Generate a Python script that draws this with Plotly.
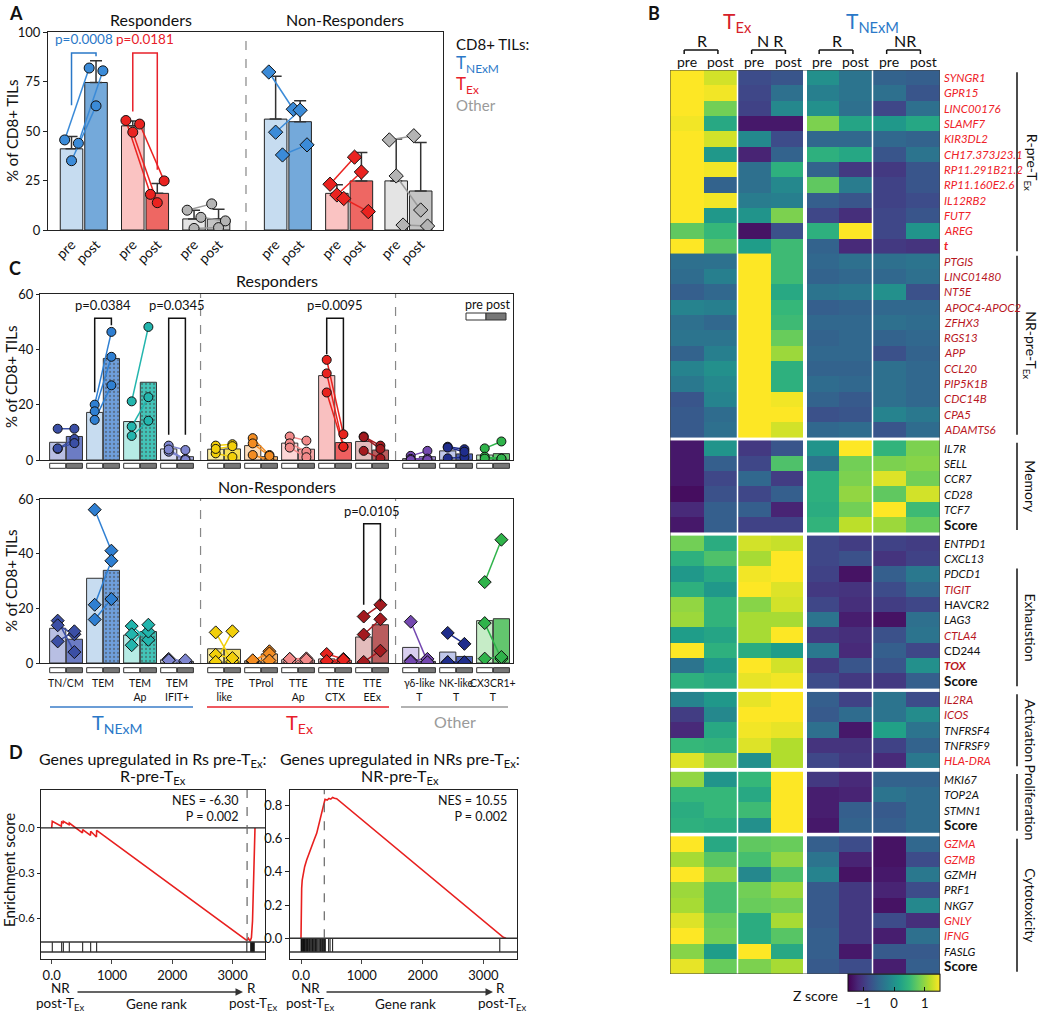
import plotly.graph_objects as go

W, H = 1043, 1023
FONT = "Lato, 'Open Sans', sans-serif"
BLUE = "#2a78c8"
RED = "#e8202a"
GRAY = "#9a9a9a"


def fx(px):
    return px / W


def fy(py):
    return 1 - py / H


# ======================= DATA =======================
# ---- Panel A ----
A_tick_labels = ["pre", "post"]
A_group_type = ["TNExM", "TEx", "Other", "TNExM", "TEx", "Other"]
A_bar_pre = [41.0, 52.6, 5.6, 56.0, 18.5, 24.8]
A_bar_post = [74.5, 18.5, 5.5, 54.7, 24.8, 19.7]
A_err_pre = [47.2, 55.1, 10.0, 77.6, 22.8, 45.9]
A_err_post = [85.5, 23.5, 10.5, 65.3, 39.1, 44.2]
A_pts_pre = [[45.5, 35.0, 43.8], [55.3, 49.4, 53.5], [10.0, 0.8, 6.4],
             [79.8, 49.4, 37.9], [23.1, 17.7, 15.9], [45.5, 27.3, 2.5]]
A_pts_post = [[81.8, 62.7, 80.4], [18.0, 13.8, 24.8], [13.2, 1.2, 4.6],
              [61.0, 60.5, 43.0], [36.8, 29.3, 9.3], [47.6, 10.1, 2.0]]
# (group, y at pre side, y at post side, bracket top, label)
A_brackets = [(0, 63.0, 87.7, 89.4, "p=0.0008"), (1, 59.9, 30.4, 89.4, "p=0.0181")]

# ---- Panel C ----
C_cats = ["TN/CM", "TEM", "TEM<br>Ap", "TEM<br>IFIT+", "TPE<br>like", "TProl",
          "TTE<br>Ap", "TTE<br>CTX", "TTE<br>EEx", "γδ-like<br>T", "NK-like<br>T", "CX3CR1+<br>T"]
C_R_bar_pre = [6.4, 17.2, 13.9, 4.0, 3.9, 5.2, 6.1, 30.5, 6.7, 0.5, 3.3, 1.8]
C_R_bar_post = [8.5, 36.7, 28.1, 1.2, 4.0, 1.2, 3.9, 6.3, 3.6, 1.2, 2.2, 2.3]
C_R_pts_pre = [[11.3, 4.0, 4.2], [20.0, 17.6, 14.5], [21.2, 12.1, 8.7], [5.2, 3.0, 3.8],
               [5.2, 2.4, 4.0], [7.9, 1.8, 6.0], [8.5, 6.0, 4.5], [36.2, 31.3, 24.4],
               [8.5, 8.3, 3.3], [1.5, 0.4, 0.0], [4.8, 0.6, 4.5], [4.2, 1.2, 0.5]]
C_R_pts_post = [[11.3, 7.6, 6.1], [46.3, 37.3, 27.0], [48.1, 22.7, 14.2], [3.6, 0.4, 0.0],
                [5.7, 1.1, 5.0], [1.8, 0.0, 1.5], [7.0, 3.0, 1.0], [9.3, 4.8, 4.8],
                [5.2, 4.0, 0.6], [3.3, 0.5, 0.0], [3.9, 1.0, 3.0], [6.7, 0.5, 0.5]]
C_NR_bar_pre = [12.7, 31.0, 10.2, 1.2, 5.2, 0.8, 1.2, 1.5, 9.5, 5.7, 4.0, 15.5]
C_NR_bar_post = [8.7, 33.9, 11.5, 0.6, 5.0, 3.3, 1.1, 1.0, 14.0, 0.6, 2.4, 16.2]
C_NR_pts_pre = [[15.5, 13.8, 7.9], [56.1, 21.3, 15.9], [13.5, 10.5, 6.5], [1.5, 1.0, 1.0],
                [11.2, 3.0, 0.4], [0.5, 0.8, 1.0], [1.5, 0.5, 1.5], [3.3, 0.5, 0.7],
                [17.0, 10.4, 0.4], [15.1, 0.9, 0.5], [11.0, 0.3, 0.3], [29.6, 14.6, 1.6]]
C_NR_pts_post = [[4.0, 10.5, 11.6], [41.1, 37.4, 23.4], [8.5, 11.5, 14.0], [0.5, 0.0, 1.0],
                 [0.5, 1.8, 11.6], [4.3, 3.5, 0.9], [1.7, 0.5, 1.2], [1.5, 0.2, 1.2],
                 [21.3, 16.0, 4.5], [0.5, 1.5, 0.3], [7.0, 0.2, 0.3], [45.1, 1.5, 2.2]]
C_R_brackets = [(1, 24.5, 48.7, 51.2, "p=0.0384"), (3, 9.1, 9.1, 51.2, "p=0.0345"),
                (7, 38.2, 10.9, 51.2, "p=0.0095")]
C_NR_brackets = [(8, 21.3, 22.5, 50.9, "p=0.0105")]

# ---- Panel D ----
D_left_rank = [0, 10, 160, 166, 190, 193, 288, 292, 510, 514, 643, 647, 742, 746,
               3234, 3262, 3290, 3312, 3330, 3350, 3371]
D_left_es = [0.0, 0.044, 0.011, 0.04, 0.035, 0.045, 0.022, 0.033, -0.033, -0.011,
             -0.049, -0.022, -0.06, -0.016, -0.749, -0.735, -0.755, -0.73, -0.62, -0.35, 0.0]
D_left_hits = [10, 166, 193, 292, 514, 647, 746, 3236, 3300, 3310, 3318, 3326, 3334,
               3342, 3350, 3358]
D_right_rank = [0, 3, 11, 20, 38, 60, 93, 130, 175, 215, 258, 312, 367, 395, 430, 460,
                490, 520, 550, 587, 3328, 3372]
D_right_es = [0.0, 0.15, 0.30, 0.35, 0.39, 0.43, 0.47, 0.51, 0.55, 0.59, 0.63, 0.71,
              0.79, 0.834, 0.83, 0.84, 0.835, 0.845, 0.84, 0.838, 0.006, 0.0]
D_right_hits = [2, 8, 15, 22, 30, 41, 50, 57, 66, 78, 88, 97, 108, 118, 130, 142, 151,
                165, 178, 190, 202, 215, 228, 240, 252, 265, 280, 296, 310, 322, 340,
                355, 372, 388, 400, 455, 478, 520, 3270]
D_left_stats = "NES = -6.30<br>P = 0.002"
D_right_stats = "NES = 10.55<br>P = 0.002"

# ---- Panel B (heatmap, Z scores) ----
HM_col_groups = ["T<sub>Ex</sub>", "T<sub>NExM</sub>"]
HM_resp = ["R", "N R", "R", "NR"]
HM_time = ["pre", "post", "pre", "post", "pre", "post", "pre", "post"]

Rpre_genes = ["SYNGR1", "GPR15", "LINC00176", "SLAMF7", "KIR3DL2", "CH17.373J23.1",
              "RP11.291B21.2", "RP11.160E2.6", "IL12RB2", "FUT7", "AREG", "t"]
Rpre_z = [
    [1.5, 1.3, -0.8, -0.7, 0.0, -0.35, -0.55, -0.6],
    [1.5, 1.45, -0.85, -0.4, -0.2, -0.35, -0.4, -0.7],
    [1.5, 0.85, -0.9, -0.1, 0.0, -0.4, -0.85, -0.4],
    [1.45, 0.3, -1.3, -1.3, 0.9, 0.25, 0.1, 0.28],
    [1.5, 1.3, -0.08, -0.8, -0.5, -0.5, -0.5, -0.55],
    [1.5, 0.1, -1.2, -0.55, 0.4, 0.28, -0.7, -0.35],
    [1.5, 1.45, -0.4, 0.4, -0.55, -1.0, -1.0, -0.7],
    [1.5, -0.55, -0.4, -0.1, 0.75, -0.25, -0.9, -0.7],
    [1.5, 1.45, -0.25, -0.2, -0.6, -0.7, -0.9, -0.8],
    [1.5, 0.1, 0.05, 0.9, -0.85, -1.1, -0.85, -0.7],
    [0.75, 0.5, -1.35, -0.75, 0.4, 1.5, -0.85, 0.05],
    [1.5, 0.7, 0.15, 0.55, -0.55, -1.15, -1.0, -1.05],
]
Rpre_sty = ["r"] * 11 + ["rB"]

NRpre_genes = ["PTGIS", "LINC01480", "NT5E", "APOC4-APOC2", "ZFHX3", "RGS13", "APP",
               "CCL20", "PIP5K1B", "CDC14B", "CPA5", "ADAMTS6"]
NRpre_z = [
    [-0.4, -0.38, 1.5, 0.55, -0.5, -0.4, -0.4, -0.35],
    [-0.45, -0.2, 1.5, 0.55, -0.55, -0.5, -0.5, -0.4],
    [-0.6, -0.5, 1.5, 0.3, -0.35, -0.3, 0.0, -0.75],
    [-0.15, -0.2, 1.5, 0.5, -0.6, -0.55, -0.5, -0.5],
    [-0.4, -0.5, 1.5, 0.55, -0.5, -0.5, -0.4, -0.45],
    [-0.35, -0.35, 1.5, 0.8, -0.55, -0.5, -0.55, -0.5],
    [-0.55, -0.2, 1.5, 1.05, -0.5, -0.5, -0.75, -0.55],
    [-0.15, 0.0, 1.5, 0.4, -0.55, -0.55, -0.4, -0.5],
    [-0.3, -0.1, 1.5, 0.4, -0.45, -0.5, -0.4, -0.5],
    [-0.7, -0.15, 1.5, 1.45, -0.55, -0.65, -0.4, -0.5],
    [-0.65, -0.45, 1.5, 1.5, -0.75, -0.7, -0.15, -0.3],
    [-0.65, -0.4, 1.5, 1.3, -0.5, -0.45, -0.7, -0.45],
]
NRpre_sty = ["d"] * 12

Mem_genes = ["IL7R", "SELL", "CCR7", "CD28", "TCF7", "Score"]
Mem_z = [
    [-1.3, 0.05, -1.0, -0.7, 0.05, 1.5, 0.45, 0.9],
    [-1.3, -0.6, -0.85, 0.65, -0.35, 0.85, 0.9, 0.95],
    [-1.3, -0.85, -0.5, -0.95, 0.4, 0.9, 1.35, 0.85],
    [-1.4, -0.75, -0.85, -0.6, 0.4, 1.0, 0.75, 1.3],
    [-1.15, -0.6, -0.6, -1.2, 0.35, 0.85, 1.5, 0.55],
    [-1.3, -0.6, -0.9, -0.9, 0.45, 1.2, 1.05, 0.8],
]
Mem_sty = ["k"] * 5 + ["S"]

Exh_genes = ["ENTPD1", "CXCL13", "PDCD1", "TIGIT", "HAVCR2", "LAG3", "CTLA4", "CD244",
             "TOX", "Score"]
Exh_z = [
    [0.85, 0.35, 1.3, 1.25, -0.85, -0.95, -0.9, -0.95],
    [0.4, 0.65, 1.1, 1.5, -0.85, -0.75, -1.05, -0.9],
    [0.1, 0.3, 1.45, 1.5, -0.9, -1.35, -0.6, -0.3],
    [0.4, 0.1, 1.5, 1.35, -1.0, -1.05, -0.8, -0.5],
    [1.0, 0.45, 0.95, 1.3, -0.85, -1.1, -0.95, -0.85],
    [1.05, 0.45, 1.1, 1.1, -0.35, -1.25, -1.35, -0.4],
    [0.15, 0.25, 1.1, 1.5, -1.0, -1.1, -0.75, -0.35],
    [1.5, 0.4, 0.35, 0.15, -0.3, -1.15, -0.6, -0.85],
    [-0.35, 0.1, 1.5, 1.3, -1.0, -0.7, -0.7, 0.0],
    [0.4, 0.3, 1.4, 1.45, -0.8, -1.0, -1.0, -0.6],
]
Exh_sty = ["k", "k", "k", "d", "K", "k", "d", "K", "dB", "S"]

Act_genes = ["IL2RA", "ICOS", "TNFRSF4", "TNFRSF9", "HLA-DRA"]
Act_z = [
    [-0.15, 0.1, 1.4, 1.5, -0.6, -0.9, -0.35, -0.8],
    [-0.95, -0.1, 1.5, 1.5, -0.65, -0.45, -0.35, -0.05],
    [-1.15, 0.3, 1.45, 1.4, -0.4, -1.3, 0.2, -0.35],
    [0.5, 0.45, 1.35, 1.15, -1.05, -1.05, -0.9, -0.55],
    [1.35, 1.0, 0.0, 1.15, -0.85, -1.0, -1.15, -0.3],
]
Act_sty = ["d", "d", "k", "k", "r"]

Pro_genes = ["MKI67", "TOP2A", "STMN1", "Score"]
Pro_z = [
    [1.0, 0.05, 0.5, 1.5, -1.0, -1.15, -0.55, -0.55],
    [0.5, 0.5, 0.3, 1.5, -1.25, -1.2, -0.35, -0.45],
    [0.35, 0.5, 0.55, 1.5, -1.25, -0.6, -0.65, -0.45],
    [0.4, 0.35, 0.0, 1.5, -1.3, -0.55, -0.6, -0.45],
]
Pro_sty = ["k", "k", "k", "S"]

Cyt_genes = ["GZMA", "GZMB", "GZMH", "PRF1", "NKG7", "GNLY", "IFNG", "FASLG", "Score"]
Cyt_z = [
    [1.5, 0.3, 0.75, 0.8, -0.6, -0.8, -1.35, -0.5],
    [1.1, 0.7, 0.6, 1.0, -0.35, -1.2, -1.35, -0.8],
    [1.5, 1.0, -0.1, 0.65, -0.15, -1.35, -1.3, -0.3],
    [1.05, 0.6, 0.85, 1.05, -0.65, -1.0, -1.2, -0.8],
    [1.1, 0.6, 0.8, 0.85, -0.65, -1.0, -1.35, -0.1],
    [1.35, 0.8, 0.35, 1.1, -0.65, -1.0, -0.8, -1.1],
    [1.5, 0.85, 0.35, 0.7, -0.6, -1.0, -1.25, -0.4],
    [0.95, 0.15, 1.5, 0.3, -0.6, -1.3, -0.65, -0.65],
    [1.4, 0.8, 0.9, 1.1, -0.65, -0.8, -1.25, -0.6],
]
Cyt_sty = ["r", "r", "k", "k", "k", "r", "r", "k", "S"]

HM_sections = ["R-pre-T<sub>Ex</sub>", "NR-pre-T<sub>Ex</sub>", "Memory", "Exhaustion",
               "Activation", "Proliferation", "Cytotoxicity"]

# ======================= FIGURE =======================
fig = go.Figure()
shapes = []
annotations = []


def ann(text, x, y, size=13, color="#111", xanchor="center", yanchor="middle",
        xref="paper", yref="paper", **kw):
    d = dict(text=text, x=x, y=y, xref=xref, yref=yref, showarrow=False,
             font=dict(size=size, color=color, family=FONT), xanchor=xanchor, yanchor=yanchor)
    d.update(kw)
    annotations.append(d)


def hline_px(x0, x1, y, color, width=1.5, dash=None):
    shapes.append(dict(type="line", xref="paper", yref="paper", x0=fx(x0), x1=fx(x1),
                       y0=fy(y), y1=fy(y), line=dict(color=color, width=width, dash=dash)))


def bracket(xa, ya, xl, xr, yl, yr, top, text, color, fsize, tgap):
    fig.add_trace(go.Scatter(x=[xl, xl, xr, xr], y=[yl, top, top, yr], mode="lines",
                             line=dict(color=color, width=1.5), xaxis=xa, yaxis=ya,
                             showlegend=False, hoverinfo="skip"))
    ann(text, (xl + xr) / 2, top + tgap, size=fsize, color=color,
        xref=xa, yref=ya, yanchor="bottom")


# ---------------- Panel A ----------------
A_gpos = [0.0, 2.5, 5.0, 8.33, 10.83, 13.25]
A_jit = [-0.28, 0.0, 0.28]
A_pre_x = list(A_gpos)
A_post_x = [g + 1 for g in A_gpos]
colA = {
    "TNExM": dict(pre="#c6dcf0", post="#74a9da", pt="#3b8bd8", ln="#3b8bd8"),
    "TEx": dict(pre="#fac3c2", post="#ee6763", pt="#ea2320", ln="#ea2320"),
    "Other": dict(pre="#e4e4e4", post="#c4c4c4", pt="#b4b4b4", ln="#9a9a9a"),
}
for which, xs, ys, errs in [("pre", A_pre_x, A_bar_pre, A_err_pre),
                            ("post", A_post_x, A_bar_post, A_err_post)]:
    fig.add_trace(go.Bar(
        x=xs, y=ys, width=0.92,
        marker=dict(color=[colA[t][which] for t in A_group_type], line=dict(color="#222", width=1)),
        error_y=dict(type="data", symmetric=False, array=[e - b for e, b in zip(errs, ys)],
                     arrayminus=[0] * len(ys), color="#333", thickness=1.5, width=6),
        xaxis="x", yaxis="y", showlegend=False, hoverinfo="skip"))
for i, t in enumerate(A_group_type):
    sym = "circle" if i < 3 else "diamond"
    lx, ly = [], []
    for j in range(3):
        lx += [A_pre_x[i] + A_jit[j], A_post_x[i] + A_jit[j], None]
        ly += [A_pts_pre[i][j], A_pts_post[i][j], None]
    fig.add_trace(go.Scatter(x=lx, y=ly, mode="lines", line=dict(color=colA[t]["ln"], width=1.5),
                             xaxis="x", yaxis="y", showlegend=False, hoverinfo="skip"))
    mx = [A_pre_x[i] + A_jit[j] for j in range(3)] + [A_post_x[i] + A_jit[j] for j in range(3)]
    my = A_pts_pre[i] + A_pts_post[i]
    fig.add_trace(go.Scatter(x=mx, y=my, mode="markers",
                             marker=dict(symbol=sym, size=10 if sym == "circle" else 11,
                                         color=colA[t]["pt"], line=dict(color="#111", width=1)),
                             xaxis="x", yaxis="y", showlegend=False, hoverinfo="skip"))
for (g, yl, yr, top, txt), col in zip(A_brackets, [BLUE, RED]):
    bracket("x", "y", A_pre_x[g], A_post_x[g], yl, yr, top, txt, col, 13.5, 2.0)
shapes.append(dict(type="line", xref="x", yref="y", x0=7.12, x1=7.12, y0=0, y1=100,
                   line=dict(color="#888", width=1.2, dash="dash")))
ann("Responders", fx(151), fy(20), size=16)
ann("Non-Responders", fx(345), fy(20), size=16)
ann("CD8+ TILs:", fx(454), fy(44), size=15, xanchor="left")
ann("T<sub>NExM</sub>", fx(454), fy(64), size=17, color=BLUE, xanchor="left")
ann("T<sub>Ex</sub>", fx(454), fy(85), size=17, color=RED, xanchor="left")
ann("Other", fx(454), fy(105), size=15, color=GRAY, xanchor="left")
ann("% of CD8+ TILs", fx(12), fy(131), size=15, textangle=-90)

# ---------------- Panel C ----------------
C_center = [i * 2.216 + 0.6 * (i >= 4) + 0.6 * (i >= 9) for i in range(12)]
C_point_col = ["#3b4fa5", "#2f7fd2", "#22b5ad", "#7f86d0", "#f2cf0a", "#f28c22",
               "#f28a8a", "#e8231e", "#a31a1f", "#7448b0", "#1f2d8c", "#2fb34a"]
C_pre_col = ["#b8bfe3", "#c7dcf0", "#b6ebe5", "#dcdff4", "#fbeda0", "#fddcb9",
             "#fdd6d6", "#f9c0c0", "#e3bcbc", "#d9cff0", "#bfc7ea", "#c6ecc7"]
C_post_col = ["#6c7cc4", "#6f9fdc", "#43c4b8", "#a4a9df", "#f6df55", "#f7b46c",
              "#f5a6a6", "#ef6060", "#b95d5e", "#9c88cf", "#4e61b8", "#63c66e"]
C_pattern = ["", ".", ".", "", "", "", "", "", "", "", "", ""]


def panel_c(xa, ya, bar_pre, bar_post, pts_pre, pts_post, sym, brackets, box_top):
    fig.add_trace(go.Bar(x=[c - 0.5 for c in C_center], y=bar_pre, width=0.97,
                         marker=dict(color=C_pre_col, line=dict(color="#333", width=1)),
                         xaxis=xa, yaxis=ya, showlegend=False, hoverinfo="skip"))
    fig.add_trace(go.Bar(x=[c + 0.5 for c in C_center], y=bar_post, width=0.97,
                         marker=dict(color=C_post_col, line=dict(color="#333", width=1),
                                     pattern=dict(shape=C_pattern, fgcolor="#ffffff",
                                                  fgopacity=0.5, size=4, solidity=0.25)),
                         xaxis=xa, yaxis=ya, showlegend=False, hoverinfo="skip"))
    for i in range(12):
        lx, ly = [], []
        for j in range(3):
            lx += [C_center[i] - 0.5, C_center[i] + 0.5, None]
            ly += [pts_pre[i][j], pts_post[i][j], None]
        fig.add_trace(go.Scatter(x=lx, y=ly, mode="lines",
                                 line=dict(color=C_point_col[i], width=1.5),
                                 xaxis=xa, yaxis=ya, showlegend=False, hoverinfo="skip"))
        fig.add_trace(go.Scatter(x=[C_center[i] - 0.5] * 3 + [C_center[i] + 0.5] * 3,
                                 y=pts_pre[i] + pts_post[i], mode="markers",
                                 marker=dict(symbol=sym, size=9 if sym == "circle" else 10,
                                             color=C_point_col[i],
                                             line=dict(color="#111", width=1)),
                                 xaxis=xa, yaxis=ya, showlegend=False, hoverinfo="skip"))
    for (g, yl, yr, top, txt) in brackets:
        bracket(xa, ya, C_center[g] - 0.5, C_center[g] + 0.5, yl, yr, top, txt, "#111", 13, 1.2)
    for xd in [(C_center[3] + C_center[4]) / 2, (C_center[8] + C_center[9]) / 2]:
        shapes.append(dict(type="line", xref=xa, yref=ya, x0=xd, x1=xd, y0=0, y1=60,
                           line=dict(color="#888", width=1.2, dash="dash")))
    for c in C_center:
        for off, fill in [(-0.5, "#ffffff"), (0.5, "#777777")]:
            shapes.append(dict(type="rect", xref=xa, yref="paper", x0=c + off - 0.48,
                               x1=c + off + 0.48, y0=fy(box_top + 5), y1=fy(box_top),
                               fillcolor=fill, line=dict(color="#333", width=1)))


panel_c("x2", "y2", C_R_bar_pre, C_R_bar_post, C_R_pts_pre, C_R_pts_post, "circle",
        C_R_brackets, 463.3)
panel_c("x3", "y3", C_NR_bar_pre, C_NR_bar_post, C_NR_pts_pre, C_NR_pts_post, "diamond",
        C_NR_brackets, 667.7)
ann("Responders", fx(277), fy(280), size=16)
ann("Non-Responders", fx(277), fy(486), size=16)
ann("% of CD8+ TILs", fx(11), fy(377), size=15, textangle=-90)
ann("% of CD8+ TILs", fx(11), fy(581), size=15, textangle=-90)
# pre/post key
ann("pre", fx(474), fy(305), size=12.5)
ann("post", fx(498), fy(305), size=12.5)
shapes.append(dict(type="rect", xref="paper", yref="paper", x0=fx(466), x1=fx(486),
                   y0=fy(320), y1=fy(313), fillcolor="#ffffff", line=dict(color="#333", width=1)))
shapes.append(dict(type="rect", xref="paper", yref="paper", x0=fx(486), x1=fx(506),
                   y0=fy(320), y1=fy(313), fillcolor="#777777", line=dict(color="#333", width=1)))
for i, lab in enumerate(C_cats):
    ann(lab, C_center[i], fy(675), size=10.5, xref="x3", yanchor="top")
hline_px(50, 193, 707, "#3a7dc9", 1.5)
hline_px(207, 389, 707, RED, 1.5)
hline_px(401, 508, 707, "#999999", 1.5)
ann("T<sub>NExM</sub>", fx(117), fy(723), size=20, color=BLUE)
ann("T<sub>Ex</sub>", fx(299), fy(723), size=20, color=RED)
ann("Other", fx(455), fy(721), size=16, color=GRAY)

# ---------------- Panel D ----------------
L_BAND = (-0.827, -0.76)
R_BAND = (-0.082, 0.0)
for xa, ya, rk, es, hits, band, xr in [("x4", "y4", D_left_rank, D_left_es, D_left_hits, L_BAND, (-177, 3537)),
                                       ("x5", "y5", D_right_rank, D_right_es, D_right_hits, R_BAND, (-181, 3553))]:
    rx, ry = [], []
    for h in hits:
        rx += [h, h, None]
        ry += [band[0], band[1], None]
    fig.add_trace(go.Scatter(x=rx, y=ry, mode="lines", line=dict(color="#111", width=1),
                             xaxis=xa, yaxis=ya, showlegend=False, hoverinfo="skip"))
    for yb in band:
        shapes.append(dict(type="line", xref=xa, yref=ya, x0=xr[0], x1=xr[1], y0=yb, y1=yb,
                           line=dict(color="#333", width=1.5)))
    fig.add_trace(go.Scatter(x=rk, y=es, mode="lines", line=dict(color="#e8201f", width=1.6),
                             xaxis=xa, yaxis=ya, showlegend=False, hoverinfo="skip"))
shapes.append(dict(type="line", xref="x4", yref="y4", x0=-177, x1=3537, y0=0, y1=0,
                   line=dict(color="#222", width=1.2)))
shapes.append(dict(type="line", xref="x4", yref="y4", x0=3240, x1=3240, y0=-0.76, y1=0.253,
                   line=dict(color="#666", width=1.2, dash="dash")))
shapes.append(dict(type="line", xref="x5", yref="y5", x0=383, x1=383, y0=0, y1=0.89,
                   line=dict(color="#666", width=1.2, dash="dash")))
ann(D_left_stats, fx(241), fy(808), size=12.5, xanchor="right", align="right")
ann(D_right_stats, fx(509), fy(808), size=12.5, xanchor="right", align="right")
ann("Genes upregulated in Rs pre-T<sub>Ex</sub>:", fx(153), fy(759), size=16)
ann("R-pre-T<sub>Ex</sub>", fx(153), fy(776), size=16)
ann("Genes upregulated in NRs pre-T<sub>Ex</sub>:", fx(400), fy(759), size=16)
ann("NR-pre-T<sub>Ex</sub>", fx(400), fy(776), size=16)
ann("Enrichment score", fx(9), fy(870), size=15, textangle=-90)
for (nx, x0, x1, rxp, gx) in [(60, 76, 243, 251, 156), (310, 325, 493, 500, 405)]:
    ann("NR", fx(nx), fy(988), size=13.5)
    ann("post-T<sub>Ex</sub>", fx(nx), fy(1004), size=13.5)
    ann("R", fx(rxp), fy(988), size=13.5)
    ann("post-T<sub>Ex</sub>", fx(rxp + 2), fy(1004), size=13.5)
    ann("Gene rank", fx(gx), fy(1004), size=13.5)
    annotations.append(dict(x=fx(x1), y=fy(992), xref="paper", yref="paper", text="",
                            showarrow=True, ax=x0 - x1, ay=0, arrowhead=2, arrowsize=1,
                            arrowwidth=1.5, arrowcolor="#333"))

# ---------------- Panel B: heatmap ----------------
HM_GAP = 0.22
hm_blocks = [(Rpre_genes, Rpre_z, Rpre_sty, False), (NRpre_genes, NRpre_z, NRpre_sty, False),
             (Mem_genes, Mem_z, Mem_sty, True), (Exh_genes, Exh_z, Exh_sty, True),
             (Act_genes, Act_z, Act_sty, True), (Pro_genes, Pro_z, Pro_sty, True),
             (Cyt_genes, Cyt_z, Cyt_sty, True)]
sty_col = {"r": "#ee2127", "d": "#b8161e", "k": "#111111"}
offset, row = 0.0, 0
block_pos = []
for genes, z, sty, gap in hm_blocks:
    if gap:
        offset += HM_GAP
    ys = [row + k + offset for k in range(len(genes))]
    row += len(genes)
    block_pos.append(ys)
    fig.add_trace(go.Heatmap(x=list(range(8)), y=ys, z=z, coloraxis="coloraxis",
                             xaxis="x6", yaxis="y6", hoverinfo="skip"))
    for g, s, yv in zip(genes, sty, ys):
        if s == "S":
            txt, col, size = "<b>%s</b>" % g, "#111111", 13.5
        else:
            base = s[0]
            col = sty_col["k" if base == "K" else base]
            txt = g if base == "K" else "<i>%s</i>" % g
            if s.endswith("B"):
                txt = "<b>%s</b>" % txt
            size = 11.5
        ann(txt, fx(942), yv, size=size, color=col, xanchor="left", yref="y6")
HM_YMAX = row - 1 + offset + 0.5

for xv, wv in [(1.5, 1.5), (3.5, 4), (5.5, 1.5)]:
    shapes.append(dict(type="line", xref="x6", yref="y6", x0=xv, x1=xv, y0=-0.5, y1=HM_YMAX,
                       line=dict(color="white", width=wv)))
shapes.append(dict(type="rect", xref="x6", yref="y6", x0=-0.5, x1=7.5, y0=-0.5, y1=HM_YMAX,
                   line=dict(color="#444", width=1)))

# section brackets on the right
sec_rows = [block_pos[0], block_pos[1], block_pos[2], block_pos[3][2:], block_pos[4],
            block_pos[5], block_pos[6]]
for name, ys in zip(HM_sections, sec_rows):
    y0, y1 = ys[0] - 0.35, ys[-1] + 0.35
    shapes.append(dict(type="line", xref="paper", yref="y6", x0=fx(1017), x1=fx(1017),
                       y0=y0, y1=y1, line=dict(color="#111", width=1.5)))
    ann(name, fx(1031), (y0 + y1) / 2, size=14, yref="y6", textangle=90)

# headers
ann(HM_col_groups[0], 1.5, fy(22), size=21, color="#d6202a", xref="x6")
ann(HM_col_groups[1], 5.5, fy(22), size=21, color=BLUE, xref="x6")
for k, lab in enumerate(HM_resp):
    c0 = 2 * k
    ann(lab, c0 + 0.45, fy(41), size=16, xref="x6")
    xl, xr = c0 - 0.08, c0 + 0.92
    for seg in [(xl, xr, 50, 50), (xl, xl, 50, 54), (xr, xr, 50, 54)]:
        shapes.append(dict(type="line", xref="x6", yref="paper", x0=seg[0], x1=seg[1],
                           y0=fy(seg[2]), y1=fy(seg[3]), line=dict(color="#111", width=1.5)))
for k, lab in enumerate(HM_time):
    ann(lab, k, fy(62), size=14, xref="x6")
ann("Z score", fx(815), fy(995), size=14)

# panel letters
for letter, px, py in [("A", 7, 13), ("B", 646, 13), ("C", 7, 268), ("D", 7, 752)]:
    ann("<b>%s</b>" % letter, fx(px), fy(py), size=18, xanchor="left")


# ---------------- axes ----------------
def frame(domain_px, rng, anchor, **kw):
    d = dict(domain=[fx(domain_px[0]), fx(domain_px[1])], range=rng, anchor=anchor,
             showline=True, mirror=True, linecolor="#222", linewidth=1.2, showgrid=False,
             zeroline=False, automargin=False)
    d.update(kw)
    return d


def vframe(domain_px, rng, anchor, **kw):
    d = dict(domain=[fy(domain_px[1]), fy(domain_px[0])], range=rng, anchor=anchor,
             showline=True, mirror=True, linecolor="#222", linewidth=1.2, showgrid=False,
             zeroline=False, ticks="outside", ticklen=4, tickwidth=1.2, tickcolor="#222",
             tickfont=dict(size=13, color="#111"), automargin=False)
    d.update(kw)
    return d


layout_axes = dict(
    xaxis=frame((48, 443), [-0.96, 15.16], "y",
                tickvals=A_pre_x + A_post_x, ticktext=[A_tick_labels[0]] * 6 + [A_tick_labels[1]] * 6,
                tickangle=-45, ticks="", tickfont=dict(size=14, color="#111")),
    yaxis=vframe((32, 230), [0, 100], "x", tickvals=[0, 25, 50, 75, 100]),
    xaxis2=frame((40, 513), [-1.56, 26.77], "y2", showticklabels=False, ticks=""),
    yaxis2=vframe((294, 460), [0, 60], "x2", tickvals=[0, 20, 40, 60], ticklen=3),
    xaxis3=frame((40, 513), [-1.56, 26.77], "y3", showticklabels=False, ticks=""),
    yaxis3=vframe((499, 663), [0, 60], "x3", tickvals=[0, 20, 40, 60], ticklen=3),
    xaxis4=frame((41, 265), [-177, 3537], "y4", tickvals=[0, 1000, 2000, 3000],
                 ticktext=["0.0", "1000", "2000", "3000"], ticks="outside", ticklen=4,
                 tickfont=dict(size=13, color="#111")),
    yaxis4=vframe((790, 959), [-0.873, 0.253], "x4", tickvals=[-0.6, -0.3, 0.0],
                  ticktext=["-0.6", "-0.3", "0.0"], ticklen=3,
                  tickfont=dict(size=11.5, color="#111")),
    xaxis5=frame((290, 517), [-181, 3553], "y5", tickvals=[0, 1000, 2000, 3000],
                 ticktext=["0.0", "1000", "2000", "3000"], ticks="outside", ticklen=4,
                 tickfont=dict(size=13, color="#111")),
    yaxis5=vframe((790, 959), [-0.124, 0.89], "x5", tickvals=[0, 0.2, 0.4, 0.6, 0.8],
                  ticktext=["0.0", "0.2", "0.4", "0.6", "0.8"]),
    xaxis6=dict(domain=[fx(670), fx(940)], range=[-0.5, 7.5], anchor="y6", visible=False,
                automargin=False),
    yaxis6=dict(domain=[fy(974), fy(70)], range=[HM_YMAX, -0.5], anchor="x6", visible=False,
                automargin=False),
)

fig.update_layout(
    width=W, height=H, autosize=False,
    margin=dict(l=0, r=0, t=0, b=0, pad=0, autoexpand=False),
    paper_bgcolor="white", plot_bgcolor="white",
    font=dict(family=FONT, color="#111"),
    barmode="overlay", showlegend=False,
    shapes=shapes, annotations=annotations,
    coloraxis=dict(colorscale="Viridis", cmin=-1.5, cmax=1.5,
                   colorbar=dict(orientation="h", x=fx(894), xanchor="center",
                                 y=fy(994.5), yanchor="middle", len=92, lenmode="pixels",
                                 thickness=17, thicknessmode="pixels", tickvals=[-1, 0, 1],
                                 ticks="inside", ticklen=4, tickcolor="#111",
                                 outlinecolor="#111", outlinewidth=1, xpad=0, ypad=0,
                                 tickfont=dict(size=13, color="#111"))),
    **layout_axes,
)

# remove the browser's default 8px page margin so the figure fills the window exactly
fig.write_html("out.html", config={"displayModeBar": False},
               post_script="document.body.style.margin='0px';document.body.style.padding='0px';")
